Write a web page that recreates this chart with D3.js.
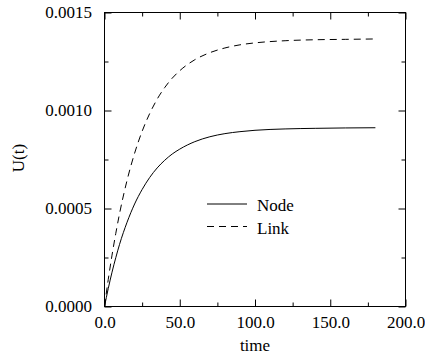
<!DOCTYPE html>
<html>
<head>
<meta charset="utf-8">
<script src="https://cdn.jsdelivr.net/npm/d3@7.9.0/dist/d3.min.js"></script>
<style>
  body { margin: 0; background: #fff; }
  svg { display: block; }
  text { fill: #000; }
</style>
</head>
<body>
<svg id="chart" width="425" height="356"></svg>
<script>
// time points (shared by both series)
const times = [0, 2.5, 5, 7.5, 10, 15, 20, 25, 30, 35, 40, 45, 50, 60, 70, 80, 90, 100, 120, 140, 160, 180];
// U(t) for node and link (units of 1e-4)
const nodeVals = [0, 0.92, 1.75, 2.49, 3.17, 4.30, 5.23, 5.97, 6.58, 7.07, 7.46, 7.78, 8.03, 8.41, 8.66, 8.82, 8.92, 8.99, 9.06, 9.09, 9.11, 9.12];
const linkVals = [0, 1.38, 2.62, 3.73, 4.74, 6.44, 7.82, 8.94, 9.84, 10.58, 11.17, 11.65, 12.03, 12.59, 12.95, 13.19, 13.35, 13.45, 13.56, 13.61, 13.63, 13.65];

const xTicks = [0, 50, 100, 150, 200];
const xMinor = [25, 75, 125, 175];
const yTicks = [0, 0.0005, 0.0010, 0.0015];
const yMinor = [0.00025, 0.00075, 0.00125];

const series = [
  { name: "Node", vals: nodeVals, dash: null },
  { name: "Link", vals: linkVals, dash: "7,5" },
];

const svg = d3.select("#chart");
const x = d3.scaleLinear().domain([0, 200]).range([104.5, 405.5]);
const y = d3.scaleLinear().domain([0, 0.0015]).range([306.5, 12.5]);

const fontSize = 17;
const serif = "Liberation Serif, Tinos, Times New Roman, Times, serif";

// frame
svg.append("rect")
  .attr("x", x(0)).attr("y", y(0.0015))
  .attr("width", x(200) - x(0)).attr("height", y(0) - y(0.0015))
  .attr("fill", "none").attr("stroke", "#000").attr("stroke-width", 1);

function styleAxis(g) {
  g.attr("font-family", serif).attr("font-size", fontSize);
  g.select(".domain").remove();
  g.selectAll("line").attr("stroke", "#000");
  g.selectAll("text").attr("fill", "#000");
}

// bottom axis with labels
svg.append("g").attr("transform", `translate(0,${y(0)})`)
  .call(d3.axisBottom(x).tickValues(xTicks).tickSizeInner(-7).tickSizeOuter(0)
    .tickPadding(9.5).tickFormat(d3.format(".1f")))
  .call(styleAxis);
svg.append("g").attr("transform", `translate(0,${y(0)})`)
  .call(d3.axisBottom(x).tickValues(xMinor).tickSizeInner(-4).tickSizeOuter(0).tickFormat(""))
  .call(styleAxis);
// top mirrored ticks
svg.append("g").attr("transform", `translate(0,${y(0.0015)})`)
  .call(d3.axisTop(x).tickValues(xTicks).tickSizeInner(-7).tickSizeOuter(0).tickFormat(""))
  .call(styleAxis);
svg.append("g").attr("transform", `translate(0,${y(0.0015)})`)
  .call(d3.axisTop(x).tickValues(xMinor).tickSizeInner(-4).tickSizeOuter(0).tickFormat(""))
  .call(styleAxis);

// left axis with labels
svg.append("g").attr("transform", `translate(${x(0)},0)`)
  .call(d3.axisLeft(y).tickValues(yTicks).tickSizeInner(-7).tickSizeOuter(0)
    .tickPadding(12.5).tickFormat(d3.format(".4f")))
  .call(styleAxis);
svg.append("g").attr("transform", `translate(${x(0)},0)`)
  .call(d3.axisLeft(y).tickValues(yMinor).tickSizeInner(-4).tickSizeOuter(0).tickFormat(""))
  .call(styleAxis);
// right mirrored ticks
svg.append("g").attr("transform", `translate(${x(200)},0)`)
  .call(d3.axisRight(y).tickValues(yTicks).tickSizeInner(-7).tickSizeOuter(0).tickFormat(""))
  .call(styleAxis);
svg.append("g").attr("transform", `translate(${x(200)},0)`)
  .call(d3.axisRight(y).tickValues(yMinor).tickSizeInner(-4).tickSizeOuter(0).tickFormat(""))
  .call(styleAxis);

// axis titles
svg.append("text")
  .attr("x", (x(0) + x(200)) / 2).attr("y", 351)
  .attr("text-anchor", "middle")
  .attr("font-family", serif).attr("font-size", fontSize)
  .text("time");
svg.append("text")
  .attr("transform", "translate(23.5,158) rotate(-90)")
  .attr("text-anchor", "middle")
  .attr("font-family", serif).attr("font-size", fontSize)
  .text("U(t)");

// curves
const line = d3.line()
  .x((d, i) => x(times[i]))
  .y((d) => y(d * 1e-4))
  .curve(d3.curveMonotoneX);

svg.selectAll("path.curve")
  .data(series)
  .join("path")
  .attr("class", "curve")
  .attr("d", (d) => line(d.vals))
  .attr("fill", "none")
  .attr("stroke", "#000")
  .attr("stroke-width", 1)
  .attr("stroke-dasharray", (d) => d.dash);

// legend
const legend = svg.append("g").selectAll("g")
  .data(series)
  .join("g")
  .attr("transform", (d, i) => `translate(207,${204 + i * 22.5})`);
legend.append("line")
  .attr("x1", 0).attr("x2", 40).attr("y1", 0).attr("y2", 0)
  .attr("stroke", "#000").attr("stroke-width", 1)
  .attr("stroke-dasharray", (d) => d.dash);
legend.append("text")
  .attr("x", 50).attr("y", 7)
  .attr("font-family", serif).attr("font-size", fontSize)
  .text((d) => d.name);
</script>
</body>
</html>
